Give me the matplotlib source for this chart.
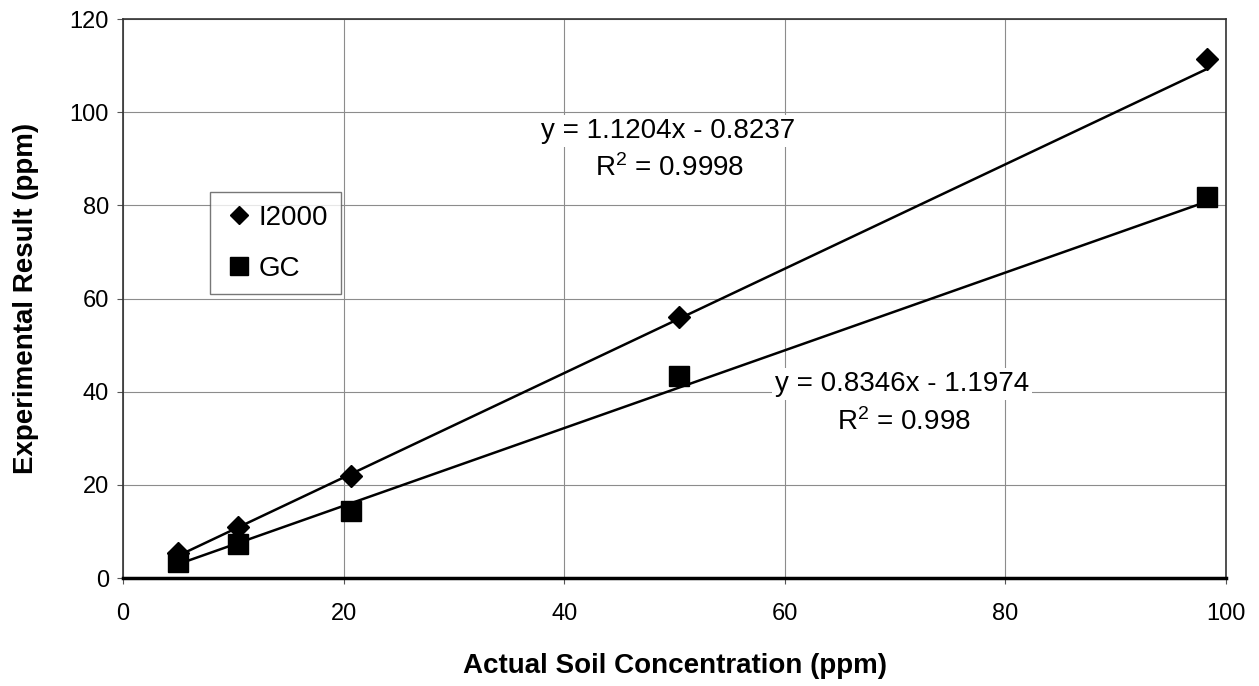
import matplotlib
matplotlib.use("Agg")
import matplotlib.pyplot as plt
import numpy as np

plt.rcParams['font.family'] = ['Liberation Sans', 'DejaVu Sans']
plt.rcParams['mathtext.fontset'] = 'custom'
plt.rcParams['mathtext.rm'] = 'Liberation Sans'
plt.rcParams['mathtext.it'] = 'Liberation Sans'

# data
conc = [5.0, 10.4, 20.7, 50.4, 98.3]
i2000 = [5.3, 11.0, 21.8, 56.0, 111.4]
gc = [3.4, 7.3, 14.4, 43.3, 81.8]
# trendline equations shown on the chart
fit_i2000 = (1.1204, -0.8237, '0.9998')
fit_gc = (0.8346, -1.1974, '0.998')

fig = plt.figure(figsize=(12.59, 6.86), dpi=100)
ax = fig.add_axes([0.0977, 0.1574, 0.8761, 0.8149])

xs = np.array([min(conc), max(conc)])
for (m, b, r2) in (fit_i2000, fit_gc):
    ax.plot(xs, m * xs + b, color='black', lw=1.8, zorder=3)

ax.plot(conc, i2000, 'D', color='black', ms=11, ls='none', label='I2000', zorder=4)
ax.plot(conc, gc, 's', color='black', ms=15, ls='none', label='GC', zorder=4)

ax.set_xlim(0, 100)
ax.set_ylim(0, 120)
ax.set_xticks(np.arange(0, 101, 20))
ax.set_yticks(np.arange(0, 121, 20))
ax.grid(True, color='#8c8c8c', lw=0.8)
ax.set_axisbelow(True)
ax.tick_params(labelsize=17, length=4, color='#555555')
ax.tick_params(axis='x', pad=14)
ax.tick_params(axis='y', pad=6)
for s in ax.spines.values():
    s.set_linewidth(1.2)
    s.set_color('#333333')
ax.spines['bottom'].set_linewidth(2.5)
ax.spines['bottom'].set_color('black')

ax.set_xlabel('Actual Soil Concentration (ppm)', fontsize=20, fontweight='bold', labelpad=20)
ax.set_ylabel('Experimental Result (ppm)', fontsize=20, fontweight='bold', labelpad=22)

box = dict(facecolor='white', edgecolor='none', pad=2)
ax.text(49.4, 96, 'y = %.4fx - %.4f' % (fit_i2000[0], -fit_i2000[1]), fontsize=20,
        ha='center', va='center', bbox=box, zorder=2)
ax.text(49.6, 88, r'R$^2$ = ' + fit_i2000[2], fontsize=20, ha='center', va='center',
        bbox=box, zorder=2)
ax.text(70.6, 41.6, 'y = %.4fx - %.4f' % (fit_gc[0], -fit_gc[1]), fontsize=20,
        ha='center', va='center', bbox=box, zorder=2)
ax.text(70.8, 33.5, r'R$^2$ = ' + fit_gc[2], fontsize=20, ha='center', va='center',
        bbox=box, zorder=2)

leg = ax.legend(loc='upper left', bbox_to_anchor=(0.156, 0.74), bbox_transform=fig.transFigure,
                fontsize=20, frameon=True, fancybox=False, handletextpad=0.1,
                handlelength=1.2, labelspacing=0.9, borderpad=0.45, markerscale=0.85)
leg.get_frame().set_edgecolor('#555555')
leg.get_frame().set_linewidth(1.0)

fig.savefig('out.png', dpi=100)
